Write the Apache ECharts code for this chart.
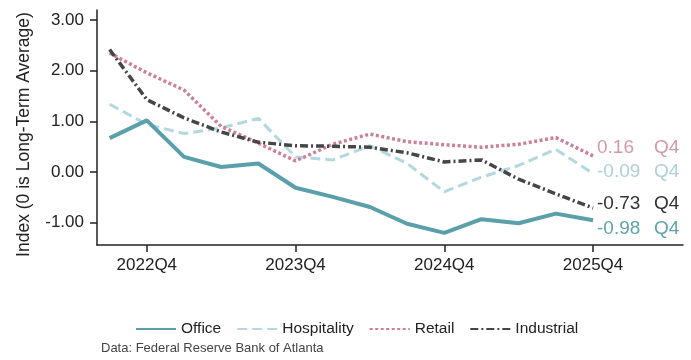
<!DOCTYPE html>
<html>
<head>
<meta charset="utf-8">
<script src="https://cdn.jsdelivr.net/npm/echarts@6/dist/echarts.min.js"></script>
<style>
  html, body { margin: 0; padding: 0; background: #fff; }
  #chart { width: 691px; height: 360px; }
</style>
</head>
<body>
<div id="chart"></div>
<script>
var quarters = ['2022Q3','2022Q4','2023Q1','2023Q2','2023Q3','2023Q4','2024Q1','2024Q2','2024Q3','2024Q4','2025Q1','2025Q2','2025Q3','2025Q4'];
var office      = [0.67, 1.02, 0.30, 0.10, 0.17, -0.31, -0.49, -0.69, -1.02, -1.20, -0.93, -1.01, -0.82, -0.95];
var hospitality = [1.34, 0.94, 0.76, 0.87, 1.06, 0.30, 0.24, 0.52, 0.17, -0.39, -0.10, 0.13, 0.45, -0.03];
var retail      = [2.35, 1.96, 1.62, 0.90, 0.57, 0.22, 0.55, 0.75, 0.60, 0.54, 0.49, 0.55, 0.68, 0.32];
var industrial  = [2.42, 1.43, 1.07, 0.79, 0.59, 0.52, 0.51, 0.49, 0.38, 0.20, 0.24, -0.14, -0.43, -0.71];
var endValues   = ['-0.98', '-0.09', '0.16', '-0.73'];
var yTicks = [-1, 0, 1, 2, 3];

var xTicks = [];
quarters.forEach(function (q, i) { if (q.slice(4) === 'Q4') xTicks.push(i); });

function pairs(arr) {
    return arr.map(function (v, i) { return [i, v]; });
}

function endLabel(text, color, dy) {
    return {
        show: true,
        distance: 4,
        offset: [0, dy],
        formatter: function () { return '{v|' + text + '}{q|Q4}'; },
        rich: {
            v: { width: 57, fontSize: 19, color: color, fontFamily: 'Liberation Sans' },
            q: { fontSize: 19, color: color, fontFamily: 'Liberation Sans' }
        }
    };
}

var myChart = echarts.init(document.getElementById('chart'));
myChart.setOption({
    backgroundColor: '#fff',
    animation: false,
    textStyle: { fontFamily: 'Liberation Sans' },
    grid: { left: 97, right: 8, top: 10, bottom: 115, containLabel: false },
    legend: {
        left: 130,
        top: 316,
        itemWidth: 40,
        itemHeight: 14,
        itemGap: 15,
        itemStyle: { opacity: 0 },
        textStyle: { fontSize: 15.5, color: '#222' },
        data: ['Office', 'Hospitality', 'Retail', 'Industrial']
    },
    xAxis: {
        type: 'value',
        min: -0.34,
        max: 15.42,
        splitLine: { show: false },
        axisLine: { onZero: false, lineStyle: { color: '#222', width: 1.5 } },
        axisTick: { show: true, length: 7, customValues: xTicks, lineStyle: { color: '#222', width: 1.5 } },
        axisLabel: {
            customValues: xTicks,
            margin: 12,
            fontSize: 17,
            color: '#222',
            formatter: function (v) { return quarters[v]; }
        }
    },
    yAxis: {
        type: 'value',
        min: -1.44,
        max: 3.2,
        name: 'Index (0 is Long-Term Average)',
        nameLocation: 'middle',
        nameGap: 64,
        nameTextStyle: { fontSize: 17.5, color: '#222', padding: [0, 14, 0, 0] },
        splitLine: { show: false },
        axisLine: { show: true, onZero: false, lineStyle: { color: '#222', width: 1.5 } },
        axisTick: { show: true, length: 7, customValues: yTicks, lineStyle: { color: '#222', width: 1.5 } },
        axisLabel: {
            customValues: yTicks,
            margin: 13,
            fontSize: 17,
            color: '#222',
            formatter: function (v) { return v.toFixed(2); }
        }
    },
    series: [
        {
            name: 'Office',
            type: 'line',
            symbol: 'none',
            z: 5,
            data: pairs(office),
            itemStyle: { color: '#5a9fa9' },
            lineStyle: { color: '#5a9fa9', width: 4 },
            endLabel: endLabel(endValues[0], '#5fa3ad', 9)
        },
        {
            name: 'Hospitality',
            type: 'line',
            symbol: 'none',
            z: 2,
            data: pairs(hospitality),
            itemStyle: { color: '#b3d8e0' },
            lineStyle: { color: '#b3d8e0', width: 3, type: [10, 5] },
            endLabel: endLabel(endValues[1], '#afd0d8', -2)
        },
        {
            name: 'Retail',
            type: 'line',
            symbol: 'none',
            z: 3,
            data: pairs(retail),
            itemStyle: { color: '#cc7f95' },
            lineStyle: { color: '#cc7f95', width: 3.5, type: [3, 2.5] },
            endLabel: endLabel(endValues[2], '#d49aa9', -8)
        },
        {
            name: 'Industrial',
            type: 'line',
            symbol: 'none',
            z: 4,
            data: pairs(industrial),
            itemStyle: { color: '#464646' },
            lineStyle: { color: '#464646', width: 3.5, type: [8, 3, 2, 3] },
            endLabel: endLabel(endValues[3], '#333', -4)
        }
    ],
    graphic: [
        {
            type: 'text',
            left: 101,
            top: 342,
            style: { text: 'Data: Federal Reserve Bank of Atlanta', fontSize: 13, fill: '#444', fontFamily: 'Liberation Sans' }
        }
    ]
});
</script>
</body>
</html>
